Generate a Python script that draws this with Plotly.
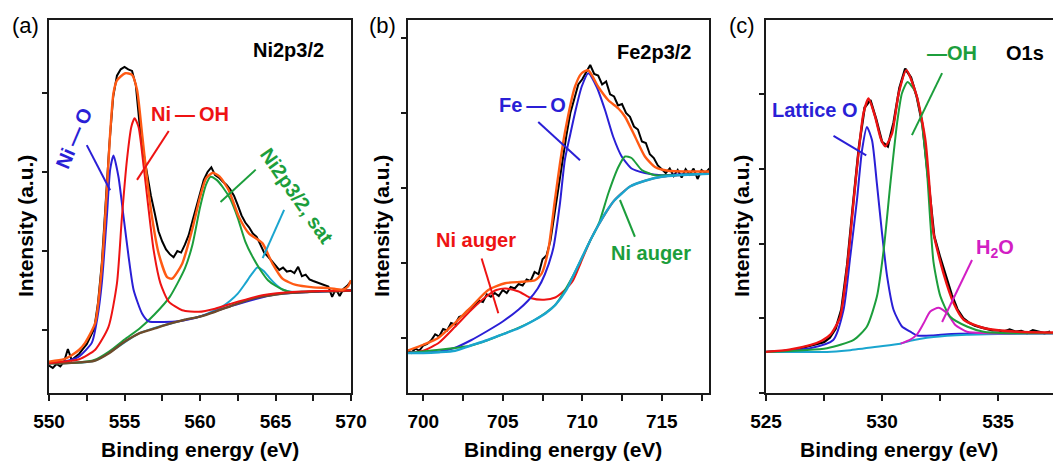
import plotly.graph_objects as go

W, H = 1053, 462

# ---------------- Panel (a): Ni2p3/2 ----------------
a_black_y = [0.55, 0.52, 0.57, 0.54, 0.60, 0.76, 0.62, 0.66, 0.70, 0.76, 0.82, 0.92, 1.02, 1.35, 1.85, 2.60,
             3.35, 3.95, 4.22, 4.30, 4.33, 4.30, 4.28, 4.10, 3.60, 3.25, 2.95, 2.70, 2.48, 2.25, 2.12, 2.02,
             1.96, 1.92, 2.00, 1.98, 2.08, 2.20, 2.38, 2.55, 2.75, 2.90, 3.00, 3.06, 2.96, 2.93, 2.88, 2.84,
             2.78, 2.70, 2.58, 2.45, 2.36, 2.30, 2.22, 2.18, 2.08, 1.98, 1.93, 1.87, 1.82, 1.76, 1.79, 1.74,
             1.75, 1.72, 1.80, 1.68, 1.70, 1.64, 1.62, 1.60, 1.58, 1.56, 1.55, 1.42, 1.52, 1.43, 1.52, 1.56, 1.62]
a_black_x = [round(550 + 0.25 * i, 2) for i in range(len(a_black_y))]

a_base_x = [550, 551, 552, 553, 554, 555, 556, 557, 558, 559, 560, 561, 562, 563, 564, 565, 566, 567, 568, 569, 570]
a_base_y = [0.58, 0.58, 0.59, 0.61, 0.71, 0.85, 0.96, 1.02, 1.08, 1.13, 1.17, 1.23, 1.30, 1.37, 1.42, 1.45, 1.47, 1.48, 1.49, 1.49, 1.50]

a_sat2_x = [550, 553, 556, 559, 560, 561, 561.5, 562, 562.5, 563, 563.4, 563.8, 564.2, 564.6, 565, 565.5, 566.3, 567, 570]
a_sat2_y = [0.58, 0.61, 0.96, 1.13, 1.17, 1.25, 1.30, 1.37, 1.46, 1.59, 1.70, 1.79, 1.75, 1.66, 1.58, 1.51, 1.48, 1.485, 1.50]

a_sat_x = [550, 552, 553, 554, 555, 556, 557, 558, 559, 559.5, 560, 560.4, 560.7, 561.1, 561.5, 562, 562.5, 563, 563.5, 564, 564.5, 565, 565.5, 566, 567, 568, 570]
a_sat_y = [0.58, 0.59, 0.62, 0.73, 0.88, 1.02, 1.20, 1.42, 1.78, 2.08, 2.55, 2.84, 2.94, 2.90, 2.81, 2.66, 2.42, 2.12, 1.92, 1.76, 1.63, 1.56, 1.51, 1.48, 1.485, 1.49, 1.50]

a_nio_x = [550, 551, 551.95, 552.84, 553.2, 553.5, 553.83, 554.05, 554.27, 554.6, 554.94, 555.27, 555.6, 556.16, 556.6, 557.5, 558.6, 560, 562, 565, 570]
a_nio_y = [0.58, 0.60, 0.66, 0.84, 1.15, 1.60, 2.43, 3.03, 3.21, 2.94, 2.43, 1.93, 1.51, 1.21, 1.11, 1.10, 1.11, 1.17, 1.30, 1.45, 1.50]

a_nioh_x = [550, 551, 552, 553.06, 553.94, 554.5, 554.83, 555.16, 555.45, 555.67, 555.93, 556.27, 556.6, 556.93, 557.38, 557.93, 558.82, 559.92, 561, 562, 564.13, 566.35, 570]
a_nioh_y = [0.58, 0.60, 0.63, 0.75, 1.04, 1.59, 2.43, 3.15, 3.57, 3.68, 3.57, 3.07, 2.52, 2.01, 1.59, 1.36, 1.25, 1.23, 1.27, 1.33, 1.44, 1.485, 1.50]

a_fit_x = [550, 551, 551.5, 552, 552.4, 553.06, 553.5, 553.83, 554.05, 554.27, 554.5, 555.05, 555.5, 555.83, 556.16, 556.5, 556.82,
           557.26, 557.82, 558.15, 558.82, 559.48, 560.0, 560.4, 560.85, 561.3, 561.9, 562.58, 563.25, 564.13, 564.8, 565.46,
           566.35, 567.5, 568.56, 569.45, 569.8, 570]
a_fit_y = [0.60, 0.63, 0.68, 0.75, 0.84, 1.09, 1.80, 2.77, 3.49, 4.00, 4.16, 4.25, 4.23, 4.04, 3.49, 2.90, 2.43,
           1.97, 1.67, 1.65, 1.84, 2.27, 2.68, 2.92, 2.99, 2.94, 2.77, 2.43, 2.22, 2.10, 1.84, 1.65,
           1.57, 1.54, 1.53, 1.51, 1.55, 1.63]

# ---------------- Panel (b): Fe2p3/2 ----------------
b_black_y = [0.84, 0.80, 0.86, 0.83, 0.90, 0.92, 0.97, 1.05, 1.02, 1.12, 1.10, 1.20, 1.18, 1.28, 1.30, 1.36,
             1.40, 1.45, 1.50, 1.48, 1.58, 1.55, 1.60, 1.56, 1.64, 1.60, 1.68, 1.66, 1.72, 1.70, 1.78, 1.76,
             1.88, 1.85, 2.05, 2.10, 2.30, 2.65, 3.00, 3.40, 3.70, 4.00, 4.20, 4.38, 4.45, 4.55, 4.64, 4.52,
             4.50, 4.38, 4.42, 4.25, 4.22, 4.10, 4.12, 4.00, 3.95, 3.82, 3.78, 3.62, 3.60, 3.45, 3.40, 3.30,
             3.25, 3.20, 3.26, 3.16, 3.24, 3.14, 3.25, 3.18, 3.26, 3.12, 3.24, 3.20, 3.26]
b_black_x = [round(699 + 0.25 * i, 2) for i in range(len(b_black_y))]

b_base_x = [699, 700, 701, 702, 703, 704, 705, 706, 707, 707.7, 708.3, 709, 709.5, 710, 710.5, 711, 711.5, 712, 712.5, 713, 714, 715, 716, 718]
b_base_y = [0.80, 0.80, 0.81, 0.83, 0.90, 0.97, 1.05, 1.13, 1.24, 1.33, 1.44, 1.64, 1.86, 2.08, 2.30, 2.50, 2.68, 2.83, 2.93, 3.02, 3.10, 3.15, 3.17, 3.19]

b_feo_x = [699, 701, 702, 703, 704, 705, 706, 706.6, 707.2, 707.65, 708.18, 708.6, 708.9, 709.25, 709.54, 709.96, 710.38, 710.9, 711.43, 711.95, 712.48, 713.1, 713.94, 715, 716, 718]
b_feo_y = [0.80, 0.82, 0.87, 0.97, 1.09, 1.22, 1.38, 1.50, 1.66, 1.85, 2.20, 2.80, 3.37, 3.72, 4.00, 4.35, 4.53, 4.35, 4.04, 3.68, 3.42, 3.26, 3.20, 3.17, 3.18, 3.19]

b_niaug1_x = [699, 700, 701, 702, 703, 704, 704.6, 705.2, 706, 706.8, 707.6, 708.3, 708.8, 709.4, 709.9, 710.5, 711, 712, 713, 714, 715, 716, 718]
b_niaug1_y = [0.80, 0.83, 0.94, 1.15, 1.37, 1.56, 1.64, 1.66, 1.62, 1.53, 1.51, 1.54, 1.62, 1.76, 2.00, 2.30, 2.50, 2.83, 3.02, 3.10, 3.15, 3.17, 3.19]

b_niaug2_x = [699, 703, 705, 707, 708.3, 709.5, 710, 710.5, 710.8, 711.1, 711.64, 712.27, 712.69, 713.1, 713.74, 714.57, 715.5, 718]
b_niaug2_y = [0.80, 0.90, 1.05, 1.24, 1.44, 1.86, 2.08, 2.30, 2.42, 2.56, 2.93, 3.28, 3.42, 3.40, 3.24, 3.17, 3.17, 3.19]

b_fit_x = [699, 700, 700.94, 701.99, 703.04, 704.09, 705.14, 706.19, 707.03, 707.45, 707.86, 708.28, 708.6, 708.9, 709.54,
           709.96, 710.38, 711.0, 711.64, 712.27, 712.69, 713.33, 713.94, 714.57, 715.4, 718]
b_fit_y = [0.83, 0.91, 1.00, 1.20, 1.42, 1.64, 1.73, 1.75, 1.77, 1.86, 2.17, 2.84, 3.33, 3.73, 4.35,
           4.53, 4.57, 4.35, 4.17, 4.06, 3.95, 3.68, 3.42, 3.28, 3.23, 3.22]

# ---------------- Panel (c): O1s ----------------
c_black_y = [0.55, 0.55, 0.56, 0.56, 0.57, 0.58, 0.60, 0.62, 0.64, 0.66, 0.68, 0.74, 0.86, 1.12, 1.72, 2.52,
             3.28, 3.82, 3.92, 3.66, 3.36, 3.30, 3.62, 4.08, 4.34, 4.22, 3.96, 3.58, 2.80, 2.10, 1.82, 1.58,
             1.32, 1.12, 1.00, 0.94, 0.90, 0.88, 0.86, 0.84, 0.84, 0.82, 0.85, 0.82, 0.83, 0.80, 0.84, 0.82,
             0.80, 0.82]
c_black_x = [round(525 + 0.25 * i, 2) for i in range(len(c_black_y))]

c_base_x = [525, 527.63, 528.5, 529.78, 530.79, 531.22, 532.22, 533.66, 535, 537.4]
c_base_y = [0.55, 0.55, 0.57, 0.62, 0.66, 0.70, 0.75, 0.78, 0.79, 0.80]

c_lat_x = [525, 526.9, 527.9, 528.34, 528.63, 528.92, 529.14, 529.35, 529.57, 529.78, 530.0, 530.22, 530.5, 530.86, 531.22, 531.51, 532.2, 533, 537.4]
c_lat_y = [0.55, 0.60, 0.71, 1.11, 1.82, 2.58, 3.25, 3.56, 3.38, 2.80, 2.14, 1.56, 1.11, 0.89, 0.82, 0.77, 0.77, 0.79, 0.80]

c_oh_x = [525, 527.63, 528.78, 529.35, 529.78, 530.07, 530.36, 530.65, 530.86, 531.1, 531.4, 531.65, 531.94, 532.08, 532.22, 532.51, 532.94, 533.66, 534.38, 535.5, 537.4]
c_oh_y = [0.55, 0.60, 0.71, 0.89, 1.29, 1.91, 2.80, 3.61, 4.01, 4.16, 4.05, 3.75, 2.95, 2.30, 1.75, 1.30, 1.02, 0.89, 0.82, 0.80, 0.80]

c_h2o_x = [530.8, 531.2, 531.5, 531.79, 532.08, 532.44, 532.8, 533.16, 533.66, 534.5, 537.4]
c_h2o_y = [0.66, 0.71, 0.78, 0.93, 1.09, 1.14, 1.07, 0.91, 0.82, 0.80, 0.80]

c_fit_x = [525, 526, 526.9, 527.4, 527.8, 528.2, 528.5, 528.78, 529.0, 529.2, 529.42, 529.7, 529.95, 530.14, 530.43, 530.72,
           531.05, 531.5, 531.87, 532.1, 532.22, 532.65, 533.09, 533.52, 534.38, 535.82, 537.4]
c_fit_y = [0.55, 0.58, 0.64, 0.70, 0.79, 1.02, 1.69, 2.58, 3.25, 3.74, 3.94, 3.70, 3.40, 3.30, 3.47, 4.01,
           4.32, 3.97, 3.38, 2.55, 2.14, 1.60, 1.20, 0.98, 0.87, 0.82, 0.81]

# ---------------- colours ----------------
BLUE = '#2a1fd6'
RED = '#ee1313'
ORANGE = '#ff5a14'
GREEN = '#1c9e3c'
CYAN = '#1aa5cf'
BROWN = '#6e4b2a'
MAGENTA = '#d21fc4'
FONT = 'Arial, Liberation Sans, Helvetica, sans-serif'

fig = go.Figure()


def add(x, y, color, xa, ya, width=2.0, spline=True):
    fig.add_trace(go.Scatter(
        x=x, y=y, mode='lines', xaxis=xa, yaxis=ya, showlegend=False, hoverinfo='skip',
        line=dict(color=color, width=width, shape='spline' if spline else 'linear', smoothing=0.6)))


# panel a
add(a_black_x, a_black_y, 'black', 'x', 'y', 2.0, False)
add(a_sat2_x, a_sat2_y, CYAN, 'x', 'y')
add(a_sat_x, a_sat_y, GREEN, 'x', 'y')
add(a_nio_x, a_nio_y, BLUE, 'x', 'y')
add(a_base_x, a_base_y, BROWN, 'x', 'y', 2.4)
add(a_nioh_x, a_nioh_y, RED, 'x', 'y')
add(a_fit_x, a_fit_y, ORANGE, 'x', 'y', 2.4)
# panel b
add(b_black_x, b_black_y, 'black', 'x2', 'y2', 2.0, False)
add(b_niaug1_x, b_niaug1_y, RED, 'x2', 'y2')
add(b_feo_x, b_feo_y, BLUE, 'x2', 'y2')
add(b_niaug2_x, b_niaug2_y, GREEN, 'x2', 'y2')
add(b_base_x, b_base_y, CYAN, 'x2', 'y2', 2.4)
add(b_fit_x, b_fit_y, ORANGE, 'x2', 'y2', 2.4)
# panel c
add(c_black_x, c_black_y, 'black', 'x3', 'y3', 2.4, False)
add(c_lat_x, c_lat_y, BLUE, 'x3', 'y3')
add(c_base_x, c_base_y, CYAN, 'x3', 'y3')
add(c_h2o_x, c_h2o_y, MAGENTA, 'x3', 'y3')
add(c_oh_x, c_oh_y, GREEN, 'x3', 'y3')
add(c_fit_x, c_fit_y, RED, 'x3', 'y3', 2.4)


def xpx(p):
    return p / W


def ypx(p):
    return 1 - p / H


ydom = [ypx(393), ypx(20)]
axis_common = dict(showline=True, linecolor='#1a1a1a', linewidth=2, showgrid=False, zeroline=False,
                   ticks='outside', tickcolor='#1a1a1a', tickwidth=1.5, automargin=False)
xcommon = dict(axis_common, ticklen=6, tickfont=dict(family=FONT, size=19, color='black', weight='bold'),
               ticklabelstandoff=4, dtick=5, mirror=True)


def xaxis(domain, rng, tick0, mirror=True):
    d = dict(xcommon, domain=domain, range=rng, tick0=tick0,
             minor=dict(dtick=2.5, tick0=tick0, ticks='outside', ticklen=6, tickwidth=1.5, tickcolor='#1a1a1a'))
    d['mirror'] = mirror
    return d


def yaxis(rng, tickvals, anchor, mirror=True):
    return dict(axis_common, domain=ydom, range=rng, tickvals=tickvals, showticklabels=False, ticklen=5,
                anchor=anchor, mirror=mirror)


fig.update_layout(
    template=None,
    width=W, height=H, margin=dict(l=0, r=0, t=0, b=0, pad=0), autosize=False,
    paper_bgcolor='white', plot_bgcolor='white', showlegend=False,
    xaxis=dict(xaxis([xpx(49), xpx(351)], [550, 570], 550), anchor='y'),
    yaxis=yaxis([0.2025, 4.924], [1, 2, 3, 4], 'x'),
    xaxis2=dict(xaxis([xpx(408), xpx(709)], [699.04, 717.97], 700), anchor='y2'),
    yaxis2=yaxis([0.2667, 5.24], [1, 2, 3, 4, 5], 'x2'),
    xaxis3=dict(xaxis([xpx(766), 1.0], [525, 537.37], 525), anchor='y3'),
    yaxis3=yaxis([0, 4.99], [0, 1, 2, 3, 4], 'x3', mirror=False),
)

# leader lines (annotation pointers)
leaders = [
    ('x', 'y', 552.5, 3.34, 554.05, 2.77, BLUE),
    ('x', 'y', 557.93, 3.52, 555.83, 2.90, RED),
    ('x', 'y', 563.69, 3.03, 561.36, 2.62, GREEN),
    ('x', 'y', 565.57, 2.52, 564.15, 1.91, CYAN),
    ('x2', 'y2', 707.23, 3.88, 709.86, 3.37, BLUE),
    ('x2', 'y2', 703.67, 2.06, 704.72, 1.33, RED),
    ('x2', 'y2', 712.37, 2.84, 713.31, 2.35, GREEN),
    ('x3', 'y3', 532.59, 4.28, 531.29, 3.45, GREEN),
    ('x3', 'y3', 527.91, 3.44, 529.32, 3.18, BLUE),
    ('x3', 'y3', 533.88, 1.78, 532.59, 0.95, MAGENTA),
]
for xr, yr, x0, y0, x1, y1, col in leaders:
    fig.add_shape(type='line', xref=xr, yref=yr, x0=x0, y0=y0, x1=x1, y1=y1, line=dict(color=col, width=2))


def text(t, x, y, size=20, color='black', angle=0, bold=True):
    fig.add_annotation(text=f'<b>{t}</b>' if bold else t, x=xpx(x), y=ypx(y), xref='paper', yref='paper',
                       showarrow=False, xanchor='center', yanchor='middle', textangle=angle,
                       font=dict(family=FONT, size=size, color=color))


# panel letters
text('(a)', 25, 26, 22, bold=False)
text('(b)', 382, 26, 22, bold=False)
text('(c)', 742, 26, 22, bold=False)
# panel titles / labels
text('Ni2p3/2', 288, 50)
text('Ni\u2009\u2014\u2009O', 74, 138, 20, BLUE, angle=-67)
text('Ni\u2009\u2014\u2009OH', 190, 114, 20, RED)
text('Ni2p3/2, sat', 297, 196, 20, GREEN, angle=55)
text('Fe2p3/2', 654, 52)
text('Fe\u2009\u2014\u2009O', 532, 105, 20, BLUE)
text('Ni auger', 476, 240, 20, RED)
text('Ni auger', 651, 253, 20, GREEN)
text('O1s', 1025, 53)
text('\u2014OH', 952, 53, 20, GREEN)
text('Lattice O', 815, 110, 20, BLUE)
text('H<sub>2</sub>O', 995, 248, 20, MAGENTA)
# axis titles
for cx in (200, 563, 899):
    text('Binding energy (eV)', cx, 449, 21)
for cx in (25, 381, 741):
    text('Intensity (a.u.)', cx, 226, 21, angle=-90)

fig.write_html('out.html', config={'displayModeBar': False},
               post_script="document.body.style.margin='0px';")
